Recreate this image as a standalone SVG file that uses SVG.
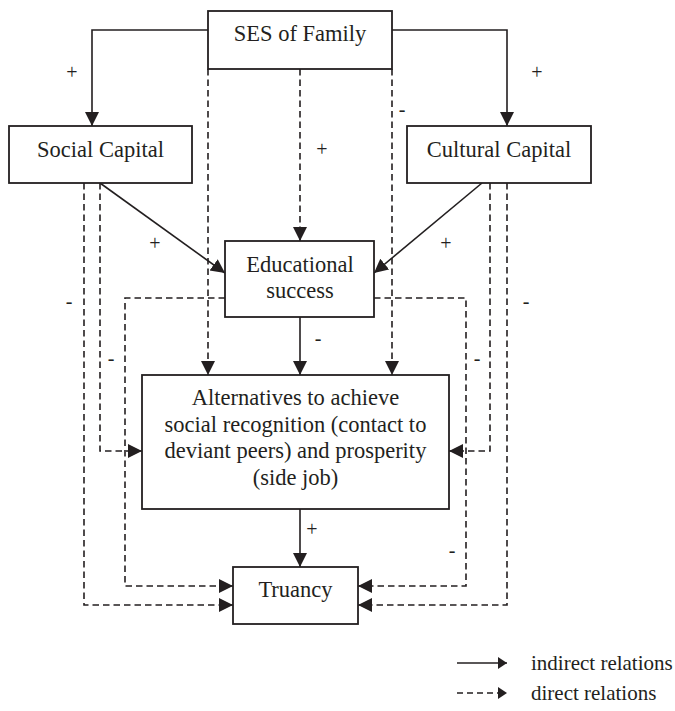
<svg xmlns="http://www.w3.org/2000/svg" width="675" height="711" viewBox="0 0 675 711">
<style>
.box{fill:#fff;stroke:#231f20;stroke-width:1.8}
.t{font-family:"Liberation Serif","Times New Roman",serif;font-size:22.5px;fill:#231f20;text-anchor:middle}
.lbl{font-family:"Liberation Serif","Times New Roman",serif;font-size:20px;fill:#231f20;text-anchor:middle}
.leg{font-family:"Liberation Serif","Times New Roman",serif;font-size:21px;fill:#231f20}
.s{fill:none;stroke:#231f20;stroke-width:1.6;marker-end:url(#ah)}
.d{fill:none;stroke:#231f20;stroke-width:1.6;stroke-dasharray:6.5 4;marker-end:url(#ah)}
</style>
<defs>
<marker id="ah" markerUnits="userSpaceOnUse" markerWidth="15" markerHeight="15" refX="14" refY="7" orient="auto" viewBox="0 0 15 15">
<path d="M0,0 L14,7 L0,14 z" fill="#231f20"/>
</marker>
<marker id="ahs" markerUnits="userSpaceOnUse" markerWidth="11" markerHeight="13" refX="9" refY="6" orient="auto" viewBox="0 0 11 13">
<path d="M0,0 L9,6 L0,12 z" fill="#231f20"/>
</marker>
</defs>
<g id="connectors">
<path class="s" d="M208,30 H92 V126"/>
<path class="s" d="M392,30 H507 V126"/>
<path class="d" d="M300,69 V241"/>
<path class="d" d="M208,69 V375"/>
<path class="d" d="M392,69 V375"/>
<path class="s" d="M100,183 L225,273"/>
<path class="s" d="M482,183 L374,273"/>
<path class="d" d="M100,183 V451 H142"/>
<path class="d" d="M84,183 V605 H233"/>
<path class="d" d="M225,298 H125 V586 H233"/>
<path class="d" d="M374,298 H466 V586 H358"/>
<path class="d" d="M490,183 V451 H449"/>
<path class="d" d="M507,183 V605 H358"/>
<path class="s" d="M300,317 V375"/>
<path class="s" d="M300,509 V567"/>
</g>
<g id="labels">
<text class="lbl" x="72" y="79">+</text>
<text class="lbl" x="537" y="79">+</text>
<text class="lbl" x="322" y="156">+</text>
<text class="lbl" x="155" y="250">+</text>
<text class="lbl" x="446" y="250">+</text>
<text class="lbl" x="312" y="536">+</text>
<text class="lbl" x="402" y="116">-</text>
<text class="lbl" x="318" y="345">-</text>
<text class="lbl" x="69" y="308">-</text>
<text class="lbl" x="111" y="365">-</text>
<text class="lbl" x="477" y="365">-</text>
<text class="lbl" x="526" y="308">-</text>
<text class="lbl" x="452" y="557">-</text>
</g>
<g id="ses">
<rect class="box" x="208" y="11" width="184" height="58"/>
<text class="t" x="300" y="41">SES of Family</text>
</g>
<g id="social">
<rect class="box" x="9" y="126" width="183" height="57"/>
<text class="t" x="100.5" y="157">Social Capital</text>
</g>
<g id="cultural">
<rect class="box" x="407" y="126" width="184" height="57"/>
<text class="t" x="499" y="157">Cultural Capital</text>
</g>
<g id="educational">
<rect class="box" x="225" y="241" width="149" height="76"/>
<text class="t" x="300" y="272">Educational</text>
<text class="t" x="300" y="298">success</text>
</g>
<g id="alternatives">
<rect class="box" x="142" y="375" width="307" height="134"/>
<text class="t" x="295.5" y="405">Alternatives to achieve</text>
<text class="t" x="295.5" y="432">social recognition (contact to</text>
<text class="t" x="295.5" y="458">deviant peers) and prosperity</text>
<text class="t" x="295.5" y="485">(side job)</text>
</g>
<g id="truancy">
<rect class="box" x="233" y="567" width="125" height="57"/>
<text class="t" x="295.5" y="597">Truancy</text>
</g>
<g id="legend">
<path d="M457,663 H507" fill="none" stroke="#231f20" stroke-width="1.6" marker-end="url(#ahs)"/>
<path d="M457,693 H507" fill="none" stroke="#231f20" stroke-width="1.6" stroke-dasharray="6 4" marker-end="url(#ahs)"/>
<text class="leg" x="531" y="670">indirect relations</text>
<text class="leg" x="531" y="700">direct relations</text>
</g>
</svg>
